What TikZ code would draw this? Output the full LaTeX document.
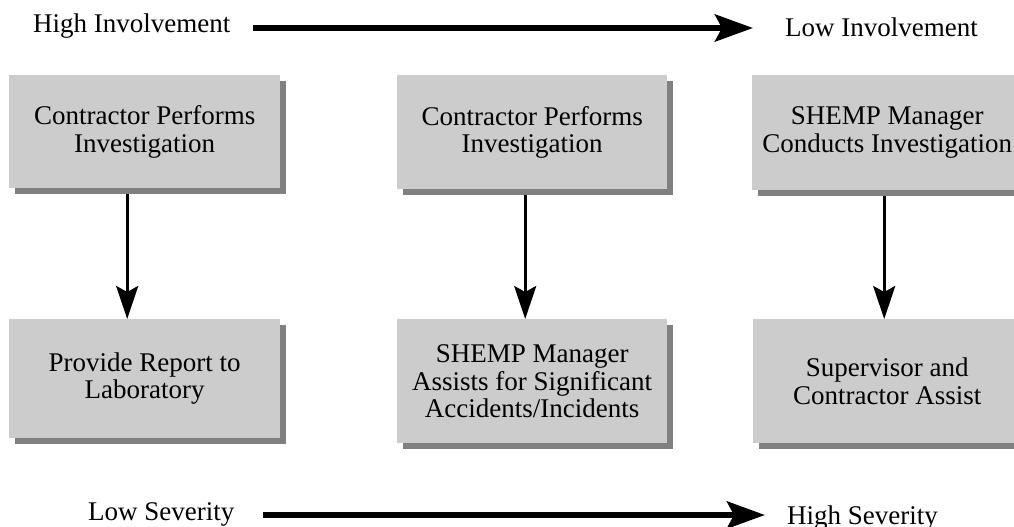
\documentclass[tikz,border=0pt]{standalone}
\usepackage{fontspec}
\setmainfont{Liberation Serif}
\usetikzlibrary{arrows.meta,shadows}
\definecolor{boxgray}{HTML}{CCCCCC}
\definecolor{shadowgray}{HTML}{808080}
\begin{document}
\begin{tikzpicture}[x=1pt,y=-1pt,
  every node/.style={font=\fontsize{27}{27.5}\selectfont},
  box/.style={fill=boxgray, draw=none, inner sep=0pt, anchor=north west, align=center,
    drop shadow={shadow xshift=6pt, shadow yshift=-6pt, fill=shadowgray, opacity=1}},
  lbl/.style={inner sep=0pt, anchor=base west},
  varrow/.style={line width=3pt, -{Stealth[length=33pt,width=22pt,inset=6pt]}},
  harrow/.style={line width=6pt, -{Stealth[length=38pt,width=27pt,inset=7pt]}}]
\useasboundingbox (0,0) rectangle (1014,527);
\fill[white] (0,0) rectangle (1014,527);

% top labels and arrow
\node[lbl] (hi) at (33,33) {High Involvement};
\node[lbl] (li) at (785,37) {Low Involvement};
\coordinate (ta) at (253,28);
\coordinate (tb) at (753,28);
\draw[harrow] (ta) -- (tb);

% top boxes
\node[box, minimum width=271pt, minimum height=113pt] (t1) at (9,75) {Contractor Performs\\Investigation};
\node[box, minimum width=270pt, minimum height=114pt] (t2) at (397,75) {Contractor Performs\\Investigation};
\node[box, minimum width=270pt, minimum height=115pt] (t3) at (752,75) {SHEMP Manager\\Conducts Investigation};

% bottom boxes
\node[box, minimum width=271pt, minimum height=119pt] (b1) at (9,319) {Provide Report to\\Laboratory};
\node[box, minimum width=270pt, minimum height=124pt] (b2) at (397,319) {SHEMP Manager\\Assists for Significant\\Accidents/Incidents};
\node[box, minimum width=268pt, minimum height=124pt] (b3) at (753,319) {Supervisor and\\Contractor Assist};

% vertical arrows
\draw[varrow] ([xshift=-17.5pt,yshift=-6pt]t1.south) -- ([xshift=-17.5pt]b1.north);
\draw[varrow] ([xshift=-7pt,yshift=-6pt]t2.south) -- ([xshift=-7pt]b2.north);
\draw[varrow] ([xshift=-3pt,yshift=-6pt]t3.south) -- ([xshift=-3pt]b3.north);

% bottom labels and arrow
\node[lbl] (ls) at (88,520) {Low Severity};
\node[lbl] (hs) at (787,524) {High Severity};
\coordinate (ba) at (263,515);
\coordinate (bb) at (765,515);
\draw[harrow] (ba) -- (bb);
\end{tikzpicture}
\end{document}
